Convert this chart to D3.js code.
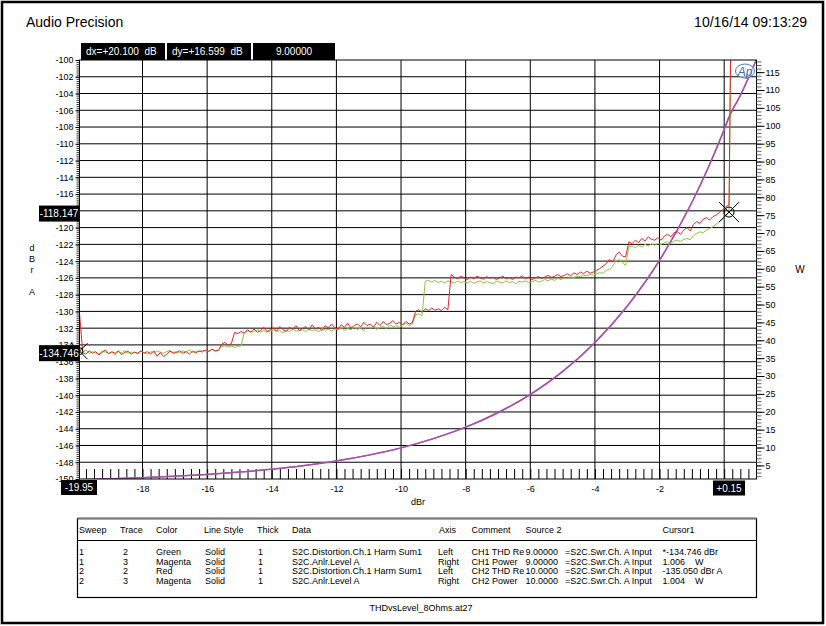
<!DOCTYPE html>
<html>
<head>
<meta charset="utf-8" />
<title>THD vs Level</title>
<script src="https://cdn.jsdelivr.net/npm/d3@7"></script>
<style>
    body { margin: 0; background: #fff; }
    text { font-family: Arial, "Liberation Sans", sans-serif; fill: #000; white-space: pre; }
</style>
</head>
<body>
<script>
// sweep: generator level in dBr, -19.95 .. +0.15 in 0.1 dB steps, then one overload point
const sweepStart = -19.95, sweepStep = 0.1;

// Sweep 1, trace 2 (green): THD residual, dBr
const greenThd = [
    -134.75, -134.9, -134.6, -135.0, -134.8, -134.95, -135.1, -134.7, -134.85, -135.0,
    -134.9, -135.2, -134.8, -134.95, -134.7, -135.0, -134.85, -134.9, -135.05, -134.75,
    -134.9, -135.1, -134.8, -134.95, -134.7, -134.85, -135.0, -134.8, -134.65, -134.9,
    -134.8, -134.95, -134.7, -134.85, -134.6, -134.9, -134.75, -134.8, -134.65, -134.7,
    -134.7, -134.55, -134.75, -134.6, -134.2, -134.1, -134.25, -134.15, -134.3, -134.2,
    -134.1, -132.5, -132.3, -132.5, -132.4, -132.2, -132.45, -132.3, -132.5, -132.35,
    -132.2, -132.4, -132.3, -132.55, -132.25, -132.4, -132.15, -132.35, -132.3, -132.2,
    -132.4, -132.1, -132.3, -132.2, -132.45, -132.0, -132.25, -132.15, -132.35, -132.1,
    -132.2, -131.95, -132.3, -132.05, -132.2, -131.9, -132.15, -132.0, -132.3, -131.85,
    -132.0, -131.8, -132.15, -131.9, -131.75, -132.05, -131.6, -131.85, -131.7, -131.9,
    -131.6, -131.4, -131.7, -131.5, -130.4, -130.3, -130.5, -126.4, -126.3, -126.5,
    -126.3, -126.55, -126.4, -126.6, -126.35, -126.5, -126.6, -126.4, -126.55, -126.45,
    -126.6, -126.4, -126.65, -126.5, -126.35, -126.6, -126.45, -126.55, -126.7, -126.4,
    -126.5, -126.6, -126.35, -126.55, -126.45, -126.7, -126.4, -126.5, -126.35, -126.55,
    -126.45, -126.3, -126.5, -126.4, -126.2, -126.35, -126.15, -126.3, -126.05, -126.2,
    -126.0, -126.1, -125.9, -125.95, -125.8, -125.85, -125.7, -125.75, -125.6, -125.65,
    -125.5, -125.4, -125.45, -125.1, -125.0, -124.6, -124.0, -123.8, -124.2, -124.5,
    -122.3, -122.2, -122.4, -122.1, -122.3, -122.0, -122.2, -121.95, -122.1, -121.9,
    -122.0, -121.8, -121.7, -121.85, -121.6, -121.5, -121.65, -121.4, -121.3, -121.45,
    -120.9, -120.7, -120.5, -120.6, -120.3, -120.1, -119.9, -119.6, -119.3, -119.0,
    -118.6, -118.15, -80
];

// Sweep 2, trace 2 (red): THD residual, dBr
const redThd = [
    -130.2, -134.9, -135.1, -134.7, -135.0, -134.8, -135.2, -134.9, -134.6, -135.05,
    -134.8, -135.0, -134.7, -135.15, -134.9, -134.75, -135.1, -134.85, -135.0, -134.7,
    -135.0, -134.8, -135.1, -134.7, -135.35, -134.9, -135.4, -135.1, -134.75, -135.0,
    -134.9, -134.7, -135.0, -134.8, -135.1, -134.75, -134.95, -134.7, -134.85, -134.6,
    -134.8, -134.5, -134.7, -134.65, -133.9, -133.7, -134.0, -133.85, -132.5, -132.65,
    -132.4, -132.6, -132.2, -132.45, -132.1, -132.5, -132.3, -131.9, -132.4, -132.2,
    -132.0, -132.35, -131.8, -132.2, -132.4, -131.9, -132.15, -131.7, -132.3, -132.05,
    -131.8, -132.2, -131.6, -132.1, -131.9, -132.3, -131.7, -132.0, -131.5, -131.95,
    -132.1, -131.6, -131.9, -131.4, -132.0, -131.7, -131.5, -131.85, -131.3, -131.7,
    -131.5, -131.9, -131.3, -131.7, -131.2, -131.6, -131.4, -131.1, -131.5, -131.3,
    -131.6, -131.2, -131.5, -131.35, -130.0, -129.8, -130.1, -129.7, -129.9, -129.6,
    -129.85, -129.7, -129.9, -129.5, -129.8, -125.6, -125.9, -126.1, -125.8, -126.0,
    -126.2, -125.9, -126.1, -125.8, -126.0, -126.15, -125.85, -126.05, -125.9, -126.2,
    -126.0, -125.8, -126.1, -125.95, -126.2, -125.9, -126.0, -125.75, -126.1, -125.9,
    -126.2, -126.0, -125.85, -126.05, -125.9, -125.7, -125.95, -125.8, -125.6, -125.85,
    -125.7, -125.5, -125.75, -125.4, -125.6, -125.3, -125.5, -125.2, -125.45, -125.3,
    -125.1, -124.9, -124.6, -124.3, -123.8, -124.1, -123.3, -122.9, -123.4, -123.5,
    -121.7, -121.9, -121.5, -121.8, -121.3, -121.6, -121.1, -121.4, -121.5, -121.2,
    -121.5, -121.0, -120.8, -121.1, -120.6, -120.5, -120.8, -120.3, -120.0, -120.4,
    -119.6, -119.3, -119.5, -119.0, -118.8, -119.1, -118.7, -118.5, -118.2, -117.9,
    -117.5, -117.3, -80
];

// trace 3 (magenta): output power, W, right axis
const powerLevels = [-19.95, -19, -18, -17, -16, -15, -14, -13, -12, -11, -10, -9, -8, -7, -6, -5, -4, -3, -2, -1, -0.5, 0, 0.15, 0.5, 1.0];
const powerCh1 = [1.006, 1.25, 1.57, 1.98, 2.49, 3.14, 3.95, 4.97, 6.26, 7.88, 9.9, 12.5, 15.7, 19.8, 24.9, 31.3, 39.4, 49.6, 62.4, 78.6, 88.2, 99.0, 102.5, 108.5, 118.6];
const powerCh2 = [1.004, 1.25, 1.57, 1.98, 2.49, 3.13, 3.94, 4.96, 6.25, 7.87, 9.9, 12.5, 15.7, 19.7, 24.8, 31.2, 39.3, 49.5, 62.3, 78.5, 88.1, 98.9, 102.4, 108.4, 118.6];

// axis ticks (labels hidden under the cursor boxes are left out)
const leftTicks = d3.range(-150, -99, 2);
const leftLabels = leftTicks.filter(d => d !== -118);
const rightTicks = d3.range(5, 116, 5);
const bottomTicks = d3.range(-18, 1, 2);
const bottomLabels = bottomTicks.filter(d => d !== 0);

// cursors
const cursor1 = { x: -19.95, y: -134.746 };
const cursor2 = { x: 0.15, y: -118.147 };
const readouts = ["dx=+20.100  dB", "dy=+16.599  dB", "9.00000"];

// legend table
const tableHeaders = ["Sweep", "Trace", "Color", "Line Style", "Thick", "Data", "Axis", "Comment", "Source 2", "", "Cursor1"];
const tableRows = [
    ["1", "2", "Green", "Solid", "1", "S2C.Distortion.Ch.1 Harm Sum1", "Left", "CH1 THD Re", "9.00000", "=S2C.Swr.Ch. A Input", "*-134.746 dBr"],
    ["1", "3", "Magenta", "Solid", "1", "S2C.Anlr.Level A", "Right", "CH1 Power", "9.00000", "=S2C.Swr.Ch. A Input", "1.006    W"],
    ["2", "2", "Red", "Solid", "1", "S2C.Distortion.Ch.1 Harm Sum1", "Left", "CH2 THD Re", "10.0000", "=S2C.Swr.Ch. A Input", "-135.050 dBr A"],
    ["2", "3", "Magenta", "Solid", "1", "S2C.Anlr.Level A", "Right", "CH2 Power", "10.0000", "=S2C.Swr.Ch. A Input", "1.004    W"]
];

const width = 826, height = 626;
const plot = { left: 79.5, right: 756.5, top: 60, bottom: 479 };

const svg = d3.select("body").append("svg")
    .attr("width", width)
    .attr("height", height);

const x = d3.scaleLinear().domain([-19.95, 1]).range([plot.left, plot.right]);
const yL = d3.scaleLinear().domain([-150, -100]).range([plot.bottom, plot.top]);
const yR = d3.scaleLinear().domain([1.2, 118.4]).range([plot.bottom, plot.top]);

// page frame and header
svg.append("rect")
    .attr("x", 2).attr("y", 2).attr("width", 821).attr("height", 621)
    .attr("fill", "none").attr("stroke", "#000").attr("stroke-width", 2.5);

svg.append("text").attr("x", 26).attr("y", 27).style("font-size", "14px").text("Audio Precision");
svg.append("text").attr("x", 807).attr("y", 27).attr("text-anchor", "end").style("font-size", "14px").text("10/16/14 09:13:29");

// grid
const grid = svg.append("g").attr("class", "grid");
grid.selectAll("line.v")
    .data(bottomTicks)
    .join("line")
    .attr("class", "v")
    .attr("x1", d => x(d)).attr("x2", d => x(d))
    .attr("y1", plot.top).attr("y2", plot.bottom)
    .attr("stroke", "#000").attr("stroke-width", 1);
grid.selectAll("line.h")
    .data(leftTicks.filter(d => d > -150 && d < -100))
    .join("line")
    .attr("class", "h")
    .attr("x1", plot.left).attr("x2", plot.right)
    .attr("y1", d => yL(d)).attr("y2", d => yL(d))
    .attr("stroke", "#000").attr("stroke-width", 1);

// minor ticks standing on the bottom edge
svg.append("g")
    .attr("transform", `translate(0,${plot.bottom})`)
    .call(d3.axisBottom(x)
        .tickValues(d3.range(-79, 4).map(k => k * 0.25))
        .tickSize(-10)
        .tickFormat(""))
    .call(g => g.select(".domain").remove())
    .call(g => g.selectAll("line").attr("stroke", "#000"));

// traces
svg.append("clipPath").attr("id", "clip")
    .append("rect")
    .attr("x", plot.left).attr("y", plot.top)
    .attr("width", plot.right - plot.left).attr("height", plot.bottom - plot.top);

const body = svg.append("g").attr("clip-path", "url(#clip)");

const thdLine = d3.line()
    .x((d, i) => x(sweepStart + i * sweepStep))
    .y(d => yL(d));

const powerLine = d3.line()
    .x((d, i) => x(powerLevels[i]))
    .y(d => yR(d))
    .curve(d3.curveMonotoneX);

body.append("path").datum(powerCh1)
    .attr("d", powerLine)
    .attr("fill", "none").attr("stroke", "#a652a8").attr("stroke-width", 1.5);
body.append("path").datum(powerCh2)
    .attr("d", powerLine)
    .attr("fill", "none").attr("stroke", "#a652a8").attr("stroke-width", 1.2);

body.append("path").datum(greenThd)
    .attr("d", thdLine)
    .attr("fill", "none").attr("stroke", "#8cc63e").attr("stroke-width", 1);
body.append("path").datum(redThd)
    .attr("d", thdLine)
    .attr("fill", "none").attr("stroke", "#e3262d").attr("stroke-width", 1);

// plot frame
svg.append("rect")
    .attr("x", plot.left).attr("y", plot.top)
    .attr("width", plot.right - plot.left).attr("height", plot.bottom - plot.top)
    .attr("fill", "none").attr("stroke", "#000").attr("stroke-width", 1);

// left axis: dense comb plus labelled ticks
svg.append("g")
    .attr("transform", `translate(${plot.left},0)`)
    .call(d3.axisLeft(yL).tickValues(d3.range(0, 201).map(k => -100 - k * 0.25)).tickSize(3).tickFormat(""))
    .call(g => g.select(".domain").remove())
    .call(g => g.selectAll("line").attr("stroke", "#333"));
svg.append("g")
    .attr("transform", `translate(${plot.left},0)`)
    .call(d3.axisLeft(yL).tickValues(leftLabels).tickSize(4).tickPadding(2).tickFormat(d => String(d)))
    .call(g => g.select(".domain").remove())
    .call(g => g.selectAll("text").style("font-size", "9px"));

// right axis
svg.append("g")
    .attr("transform", `translate(${plot.right},0)`)
    .call(d3.axisRight(yR).tickValues(d3.range(2, 119)).tickSize(5).tickFormat(""))
    .call(g => g.select(".domain").remove())
    .call(g => g.selectAll("line").attr("stroke", "#666"));
svg.append("g")
    .attr("transform", `translate(${plot.right},0)`)
    .call(d3.axisRight(yR).tickValues(rightTicks).tickSize(8).tickPadding(1).tickFormat(d => String(d)))
    .call(g => g.select(".domain").remove())
    .call(g => g.selectAll("text").style("font-size", "9px"));

// bottom labels
svg.append("g")
    .attr("transform", `translate(0,${plot.bottom})`)
    .call(d3.axisBottom(x).tickValues(bottomLabels).tickSize(0).tickPadding(7).tickFormat(d => String(d)))
    .call(g => g.select(".domain").remove())
    .call(g => g.selectAll("text").style("font-size", "9px"));

svg.append("text").attr("x", 418).attr("y", 505).attr("text-anchor", "middle").style("font-size", "9px").text("dBr");

// axis titles
["d", "B", "r", "", "A"].forEach((c, i) => {
    svg.append("text").attr("x", 32).attr("y", 251 + i * 11).attr("text-anchor", "middle")
        .style("font-size", "9px").text(c);
});
svg.append("text").attr("x", 800).attr("y", 273).attr("text-anchor", "middle").style("font-size", "10px").text("W");

// cursor markers
const marker = (c, r, arm) => {
    const g = svg.append("g").attr("transform", `translate(${x(c.x)},${yL(c.y)})`);
    g.append("circle").attr("r", r).attr("fill", "none").attr("stroke", "#000").attr("stroke-width", 1);
    g.append("line").attr("x1", -arm).attr("y1", -arm).attr("x2", arm).attr("y2", arm).attr("stroke", "#000");
    g.append("line").attr("x1", -arm).attr("y1", arm).attr("x2", arm).attr("y2", -arm).attr("stroke", "#000");
};
marker(cursor1, 3.5, 8);
marker(cursor2, 5, 10);

// black readout boxes
const box = (x0, y0, w, h, label, anchor) => {
    svg.append("rect").attr("x", x0).attr("y", y0).attr("width", w).attr("height", h).attr("fill", "#000");
    svg.append("text")
        .attr("x", anchor === "start" ? x0 + 5 : x0 + w / 2)
        .attr("y", y0 + h / 2 + 3.5)
        .attr("text-anchor", anchor)
        .style("font-size", "10px").style("fill", "#fff")
        .text(label);
};
box(81, 43, 84, 17, readouts[0], "start");
box(167, 43, 84, 17, readouts[1], "start");
box(253, 43, 82, 17, readouts[2], "middle");

box(39, yL(cursor2.y) - 6.5, 40, 16, cursor2.y.toFixed(3), "middle");
box(39, yL(cursor1.y) - 6, 40, 16, cursor1.y.toFixed(3), "middle");
box(61, plot.bottom + 1, 36, 15, cursor1.x.toFixed(2), "middle");
box(713, plot.bottom + 1.5, 32, 15, "+" + cursor2.x.toFixed(2), "middle");

// Ap logo
const logo = svg.append("g").attr("transform", "translate(745,71)");
logo.append("ellipse").attr("rx", 9.5).attr("ry", 7).attr("fill", "#fff").attr("fill-opacity", 0.6)
    .attr("stroke", "#4a78c0").attr("stroke-width", 1);
logo.append("text").attr("x", 0).attr("y", 4.5).attr("text-anchor", "middle")
    .style("font-size", "12px").style("font-style", "italic").style("fill", "#3d6db8").text("Ap");

// legend table
const colX = [79, 123, 156, 205, 258, 292, 438, 471.5, 525.5, 565, 662.5];
const headerX = [79, 120, 156, 204, 257, 292, 439, 471.5, 525.5, 565, 662.5];
const table = svg.append("g");
table.append("rect").attr("x", 77.5).attr("y", 518.5).attr("width", 679).attr("height", 79)
    .attr("fill", "none").attr("stroke", "#000").attr("stroke-width", 1.2);
table.append("line").attr("x1", 77.5).attr("x2", 756.5).attr("y1", 518.5).attr("y2", 518.5)
    .attr("stroke", "#777").attr("stroke-width", 2);
table.append("line").attr("x1", 77.5).attr("x2", 756.5).attr("y1", 540.5).attr("y2", 540.5)
    .attr("stroke", "#000").attr("stroke-width", 1);

tableHeaders.forEach((h, j) => {
    table.append("text").attr("x", headerX[j]).attr("y", 533)
        .style("font-size", "9px").text(h);
});
tableRows.forEach((row, i) => {
    row.forEach((cell, j) => {
        table.append("text").attr("x", colX[j]).attr("y", 555 + i * 9.7)
            .style("font-size", "9px").text(cell);
    });
});

svg.append("text").attr("x", 421).attr("y", 611).attr("text-anchor", "middle")
    .style("font-size", "9px").text("THDvsLevel_8Ohms.at27");
</script>
</body>
</html>
